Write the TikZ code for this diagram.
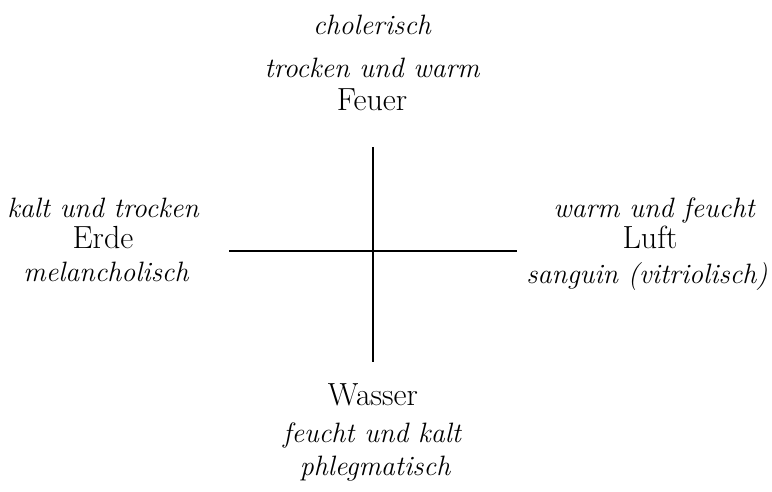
\documentclass[tikz,border=0pt]{standalone}
\begin{document}
\begin{tikzpicture}[x=1pt,y=-1pt,
  attr/.style={font=\fontsize{28}{30}\selectfont\itshape, anchor=base, inner sep=0pt},
  elem/.style={font=\fontsize{32}{34}\selectfont, anchor=base, inner sep=0pt},
  axis/.style={line width=1.6pt}]
\useasboundingbox (0,0) rectangle (772,491);
% top
\node[attr] (cho) at (372,34) {cholerisch};
\node[attr] (tuw) at (372,77) {trocken und warm};
\node[elem] (feu) at (372,110) {Feuer};
% left
\node[attr] (kut) at (103,217) {kalt und trocken};
\node[elem] (erd) at (103,248) {Erde};
\node[attr] (mel) at (106,281) {melancholisch};
% right
\node[attr] (wuf) at (654,217) {warm und feucht};
\node[elem] (luf) at (650,248) {Luft};
\node[attr] (san) at (647,283) {sanguin (vitriolisch)};
% bottom
\node[elem] (was) at (373,405) {Wasser};
\node[attr] (fuk) at (372,442) {feucht und kalt};
\node[attr] (phl) at (375,475) {phlegmatisch};
% cross
\coordinate (hl) at (229,251);
\coordinate (hr) at (517,251);
\coordinate (vt) at (373,147);
\coordinate (vb) at (373,362);
\draw[axis] (hl) -- (hr);
\draw[axis] (vt) -- (vb);
\end{tikzpicture}
\end{document}
